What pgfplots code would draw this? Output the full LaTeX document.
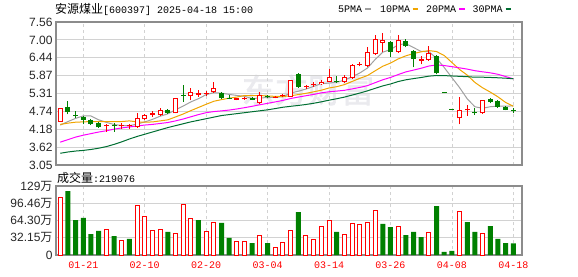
\documentclass[border=0pt]{standalone}
\usepackage{pgfplots}
\pgfplotsset{compat=1.18}
\usepackage{pgfplotstable}
\usepackage{fontspec}
\setmainfont{Liberation Sans}
\setmonofont{Liberation Mono}
\newfontfamily\cjk{Noto Sans CJK SC}
\newfontfamily\cjkb[FakeBold=2]{Noto Sans CJK SC}
\definecolor{kred}{RGB}{255,0,0}
\definecolor{kgreen}{RGB}{0,128,0}
\definecolor{maA}{RGB}{160,160,160}
\definecolor{maB}{RGB}{240,165,0}
\definecolor{maC}{RGB}{255,0,255}
\definecolor{maD}{RGB}{0,110,50}
\definecolor{gridc}{RGB}{210,210,210}
\definecolor{framec}{RGB}{140,140,140}
\definecolor{wmark}{RGB}{234,234,238}

% candles: i open high low close
\pgfplotstableread{
i o h l c
0 4.42 4.85 4.41 4.84
10 4.24 4.68 4.21 4.52
11 4.49 4.66 4.46 4.63
13 4.62 4.85 4.60 4.80
15 4.68 5.15 4.68 5.15
17 5.23 5.48 5.10 5.34
20 5.34 5.67 5.33 5.47
26 5.02 5.34 4.97 5.26
30 5.21 5.72 5.21 5.72
34 5.60 5.73 5.58 5.68
35 5.68 6.07 5.66 5.81
37 5.68 5.90 5.64 5.83
38 5.78 6.25 5.77 6.20
40 6.18 6.78 6.15 6.60
41 6.54 7.16 6.52 7.01
42 6.91 7.21 6.60 6.99
44 6.61 7.16 6.58 6.99
48 6.36 6.80 6.33 6.58
52 4.52 5.20 4.33 4.80
55 4.68 5.11 4.67 5.10
}\redH
\pgfplotstableread{
i o h l c
6 4.27 4.34 4.10 4.30
8 4.27 4.36 4.17 4.30
9 4.27 4.33 4.20 4.31
12 4.63 4.76 4.57 4.68
18 5.27 5.42 5.20 5.31
19 5.28 5.39 5.22 5.31
23 5.11 5.17 5.09 5.15
24 5.12 5.19 5.10 5.17
28 5.17 5.23 5.15 5.20
29 5.22 5.30 5.19 5.25
32 5.50 5.56 5.44 5.54
33 5.57 5.66 5.52 5.62
39 6.20 6.29 6.16 6.24
47 6.34 6.49 6.22 6.38
53 4.77 4.94 4.61 4.81
}\redF
\pgfplotstableread{
i o h l c
1 4.87 5.07 4.65 4.72
2 4.63 4.75 4.52 4.61
3 4.57 4.60 4.33 4.47
4 4.46 4.50 4.31 4.35
5 4.38 4.40 4.22 4.24
7 4.31 4.39 4.10 4.28
14 4.80 4.82 4.66 4.68
16 5.26 5.57 5.05 5.23
21 5.33 5.35 5.12 5.15
22 5.17 5.27 5.12 5.14
25 5.17 5.19 5.10 5.11
27 5.23 5.27 5.16 5.19
31 5.91 5.94 5.49 5.52
36 5.70 5.85 5.63 5.67
43 6.93 6.96 6.47 6.61
45 6.95 7.01 6.76 6.79
46 6.65 6.67 6.13 6.39
49 6.50 6.53 5.92 5.94
50 5.345 5.345 5.315 5.315
51 4.815 4.815 4.785 4.785
54 4.73 4.84 4.63 4.69
56 5.13 5.17 4.99 5.04
57 5.07 5.10 4.84 4.89
58 4.88 4.90 4.77 4.80
59 4.77 4.85 4.68 4.75
}\grn
% moving averages
\pgfplotstableread{
i m5 m10 m20 m30
0 4.31 4.33 3.77 3.42
1 4.42 4.37 3.85 3.46
2 4.52 4.40 3.93 3.49
3 4.60 4.41 3.99 3.51
4 4.596 4.42 4.04 3.54
5 4.476 4.42 4.09 3.58
6 4.394 4.42 4.13 3.63
7 4.328 4.42 4.18 3.70
8 4.294 4.42 4.22 3.78
9 4.286 4.441 4.25 3.87
10 4.342 4.409 4.28 3.95
11 4.408 4.401 4.31 4.02
12 4.488 4.408 4.33 4.09
13 4.588 4.441 4.36 4.16
14 4.662 4.474 4.39 4.23
15 4.788 4.565 4.44 4.29
16 4.908 4.658 4.50 4.35
17 5.040 4.764 4.57 4.41
18 5.142 4.865 4.64 4.46
19 5.268 4.965 4.70 4.51
20 5.332 5.060 4.735 4.56
21 5.316 5.112 4.757 4.61
22 5.276 5.158 4.783 4.64
23 5.244 5.193 4.817 4.67
24 5.216 5.242 4.858 4.70
25 5.144 5.238 4.902 4.73
26 5.166 5.241 4.950 4.76
27 5.176 5.226 4.995 4.79
28 5.186 5.215 5.040 4.83
29 5.202 5.209 5.087 4.872
30 5.324 5.234 5.147 4.901
31 5.376 5.271 5.192 4.928
32 5.446 5.311 5.235 4.959
33 5.530 5.358 5.276 4.997
34 5.616 5.409 5.326 5.042
35 5.634 5.479 5.359 5.094
36 5.664 5.520 5.381 5.140
37 5.722 5.584 5.405 5.191
38 5.838 5.684 5.450 5.255
39 5.950 5.783 5.496 5.319
40 6.108 5.871 5.553 5.388
41 6.376 6.020 5.646 5.468
42 6.608 6.165 5.738 5.545
43 6.690 6.264 5.811 5.605
44 6.840 6.395 5.902 5.682
45 6.878 6.493 5.986 5.737
46 6.754 6.565 6.043 5.775
47 6.632 6.620 6.102 5.810
48 6.626 6.658 6.171 5.852
49 6.416 6.628 6.206 5.873
50 6.124 6.503 6.187 5.869
51 5.806 6.282 6.151 5.858
52 5.490 6.063 6.114 5.846
53 5.136 5.883 6.074 5.835
54 4.886 5.653 6.024 5.819
55 4.840 5.484 5.989 5.819
56 4.888 5.349 5.957 5.811
57 4.906 5.200 5.910 5.801
58 4.904 5.022 5.840 5.788
59 4.916 4.903 5.766 5.771
}\ma
% volume (10k lots)
\pgfplotstableread{
i v
0 107.5
6 48
8 27
10 92.5
11 72
12 46
13 48
15 40
16 94.4
17 68
19 44
20 61
23 25.5
24 25.5
26 37
28 14
29 24
30 46
32 37
33 29
34 53
35 65
37 38.5
38 59
39 57
40 61
41 83
44 53
48 42
52 81
55 40
}\volR
\pgfplotstableread{
i v
1 119
2 65
3 69
4 39
5 45
7 35
9 30
14 43
18 65
21 60
22 32
25 22
27 22
31 80
36 43
42 58
43 52
45 37
46 43
47 33.5
49 91
50 5.6
51 7.5
53 61.5
54 43
56 54
57 30
58 22
59 21.9
}\volG

\pgfplotsset{
  kline/.style={
    anchor=south west, scale only axis,
    xmin=-0.555, xmax=60.13,
    xtick={3,11,19,27,35,43,51,59},
    xmajorgrids, ymajorgrids,
    x grid style={gridc, dash pattern=on 3bp off 3bp, line width=0.8bp},
    y grid style={gridc, line width=0.8bp},
    major tick length=0pt,
    axis line style={framec, line width=1.2bp},
    yticklabel style={font=\fontsize{12bp}{14bp}\selectfont, text=black!85},
  },
  wick/.style={draw=none, mark=none, forget plot,
    error bars/.cd, y dir=plus, y explicit, error mark=none,
    error bar style={draw=#1, solid, line width=1bp}},
  body/.style={draw=none, mark=none, forget plot,
    error bars/.cd, y dir=plus, y explicit, error mark=none,
    error bar style={draw=#1, solid, line width=5bp}},
  hole/.style={draw=none, mark=none, forget plot,
    error bars/.cd, y dir=plus, y explicit, error mark=none,
    error bar style={draw=white, solid, line width=3bp, shorten <=1bp, shorten >=1bp}},
}

\begin{document}
\begin{tikzpicture}[x=1bp,y=1bp]
\useasboundingbox (0,0) rectangle (578,276);

% faint watermark
\node[anchor=center, inner sep=0pt, text=wmark] at (308,186) {\cjkb\fontsize{33bp}{33bp}\selectfont 东方财富};

% title and legend
\node[anchor=west, inner sep=0pt] at (55,267) {{\cjk\fontsize{12bp}{14bp}\selectfont 安源煤业}{\ttfamily\fontsize{10bp}{12bp}\selectfont[600397] 2025-04-18 15:00}};
\begin{scope}[every node/.style={anchor=west, inner sep=0pt, font=\ttfamily\fontsize{10bp}{12bp}\selectfont}]
\node at (338,267) {5PMA};
\draw[maA, line width=2bp] (365,267) -- (371,267);
\node at (380,267) {10PMA};
\draw[maB, line width=2bp] (412.5,267) -- (418,267);
\node at (426,267) {20PMA};
\draw[maC, line width=2bp] (459,267) -- (464.5,267);
\node at (472.5,267) {30PMA};
\draw[maD, line width=2bp] (505.5,267) -- (511,267);
\end{scope}
\node[anchor=west, inner sep=0pt] at (57,98) {{\cjk\fontsize{12bp}{14bp}\selectfont 成交量}{\ttfamily\fontsize{10bp}{12bp}\selectfont :219076}};

% price panel
\begin{axis}[kline,
  at={(56bp,111bp)}, width=466bp, height=143bp,
  ymin=3.05, ymax=7.56,
  xticklabels={},
  ytick={3.05,3.61375,4.1775,4.74125,5.305,5.86875,6.4325,6.99625,7.56},
  yticklabels={3.05,3.62,4.18,4.74,5.31,5.87,6.44,7.00,7.56},
]
\addplot[maA, line width=1bp, mark=none] table[x=i, y=m5] {\ma};
\addplot[maB, line width=1bp, mark=none] table[x=i, y=m10] {\ma};
\addplot[maC, line width=1bp, mark=none] table[x=i, y=m20] {\ma};
\addplot[maD, line width=1bp, mark=none] table[x=i, y=m30] {\ma};

\addplot[wick=kred] table[x=i, y=l, y error expr=\thisrow{h}-\thisrow{l}] {\redH};
\addplot[wick=kred] table[x=i, y=l, y error expr=\thisrow{h}-\thisrow{l}] {\redF};
\addplot[wick=kgreen] table[x=i, y=l, y error expr=\thisrow{h}-\thisrow{l}] {\grn};

\addplot[body=kred] table[x=i, y=o, y error expr=\thisrow{c}-\thisrow{o}] {\redH};
\addplot[hole] table[x=i, y=o, y error expr=\thisrow{c}-\thisrow{o}] {\redH};
\addplot[body=kred] table[x=i, y=o, y error expr=\thisrow{c}-\thisrow{o}] {\redF};
\addplot[body=kgreen] table[x=i, y=c, y error expr=\thisrow{o}-\thisrow{c}] {\grn};
\end{axis}

% volume panel
\begin{axis}[kline,
  at={(56bp,21bp)}, width=466bp, height=69bp,
  ymin=0, ymax=128.6,
  xticklabels={01-21,02-10,02-20,03-04,03-14,03-26,04-08,04-18},
  xticklabel style={font=\ttfamily\fontsize{10bp}{12bp}\selectfont, text=kred, yshift=-3bp},
  ytick={0,32.15,64.30,96.46,128.6},
  yticklabels={0,32.15{\cjk 万},64.30{\cjk 万},96.46{\cjk 万},129{\cjk 万}},
]
\addplot[ybar, bar width=4bp, bar shift=0pt, draw=kred, fill=white, line width=1bp] table[x=i, y=v] {\volR};
\addplot[ybar, bar width=5bp, bar shift=0pt, draw=none, fill=kgreen] table[x=i, y=v] {\volG};
\end{axis}
\end{tikzpicture}
\end{document}
